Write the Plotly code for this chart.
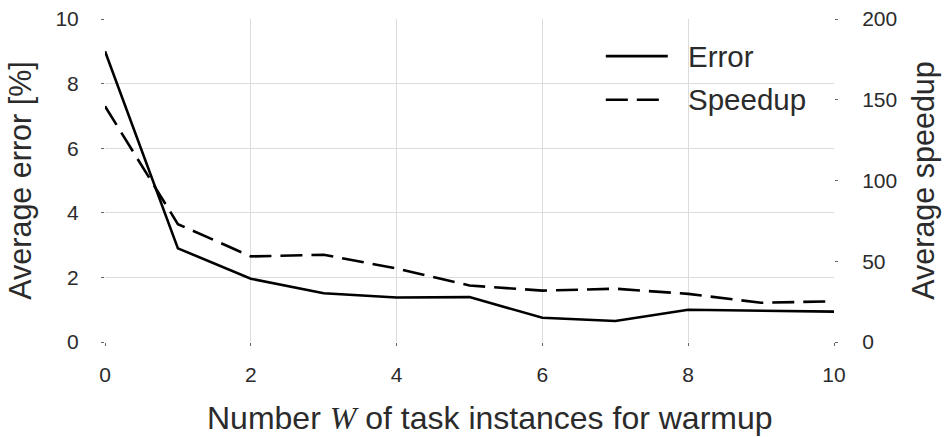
import plotly.graph_objects as go

# Warmup size W and the measured averages
warmup = [0, 1, 2, 3, 4, 5, 6, 7, 8, 9, 10]
avg_error = [9.0, 2.9, 1.96, 1.51, 1.38, 1.39, 0.75, 0.65, 1.0, 0.98, 0.94]
avg_speedup = [146, 73, 53, 54, 45.5, 35, 31.8, 33, 29.8, 24.3, 25.2]

x_ticks = [0, 2, 4, 6, 8, 10]
err_ticks = [0, 2, 4, 6, 8, 10]
spd_ticks = [0, 50, 100, 150, 200]

FONT = "Liberation Sans, Arial, sans-serif"
TXT = "#2b2b2b"
LW = 2.6
DASH = "22px,9px"

fig = go.Figure()
fig.add_trace(go.Scatter(x=warmup, y=avg_error, mode="lines", name="Error",
                         line=dict(color="black", width=LW), yaxis="y"))
fig.add_trace(go.Scatter(x=warmup, y=avg_speedup, mode="lines", name="Speedup",
                         line=dict(color="black", width=LW, dash=DASH), yaxis="y2"))

# legend drawn as line samples plus labels
legend_items = [("Error", "solid", 0.885), ("Speedup", DASH, 0.75)]
for label, dash, yy in legend_items:
    fig.add_shape(type="line", xref="paper", yref="paper",
                  x0=0.687, x1=0.772, y0=yy, y1=yy,
                  line=dict(color="black", width=LW, dash=dash))
    fig.add_annotation(xref="paper", yref="paper", x=0.797, y=yy,
                       text=label, showarrow=False, xanchor="left", yanchor="middle",
                       font=dict(family=FONT, size=29.5, color=TXT))

# x-axis title with the italic serif W
fig.add_annotation(xref="paper", yref="paper", x=0.5275, y=-0.235,
                   text="Number <span style=\"font-family:'Liberation Serif', serif\"><i>W</i></span> of task instances for warmup",
                   showarrow=False, xanchor="center", yanchor="middle",
                   font=dict(family=FONT, size=32, color=TXT))

fig.update_layout(
    width=944, height=437,
    margin=dict(l=105, r=110, t=19, b=95, autoexpand=False),
    plot_bgcolor="white", paper_bgcolor="white",
    showlegend=False,
    font=dict(family=FONT, color=TXT),
    xaxis=dict(
        range=[0, 10], tickvals=x_ticks, showline=False, zeroline=False,
        showgrid=True, gridcolor="#dcdcdc", gridwidth=1, automargin=False,
        ticks="outside", ticklen=3, tickcolor="#666666", tickwidth=1,
        tickfont=dict(size=21, color=TXT), ticklabelstandoff=11,
    ),
    yaxis=dict(
        range=[0, 10], tickvals=err_ticks, showline=False, zeroline=False,
        showgrid=True, gridcolor="#dcdcdc", gridwidth=1, automargin=False,
        ticks="outside", ticklen=3, tickcolor="#666666", tickwidth=1,
        tickfont=dict(size=21, color=TXT), ticklabelstandoff=18,
        title=dict(text="Average error [%]", font=dict(size=30.5, color=TXT), standoff=14),
    ),
    yaxis2=dict(
        range=[0, 200], tickvals=spd_ticks, overlaying="y", side="right",
        showline=False, zeroline=False, showgrid=False, automargin=False,
        ticks="outside", ticklen=3, tickcolor="#666666", tickwidth=1,
        tickfont=dict(size=21, color=TXT), ticklabelstandoff=20,
        title=dict(text="Average speedup", font=dict(size=30.5, color=TXT), standoff=16),
    ),
)

fig.write_html("out.html")
